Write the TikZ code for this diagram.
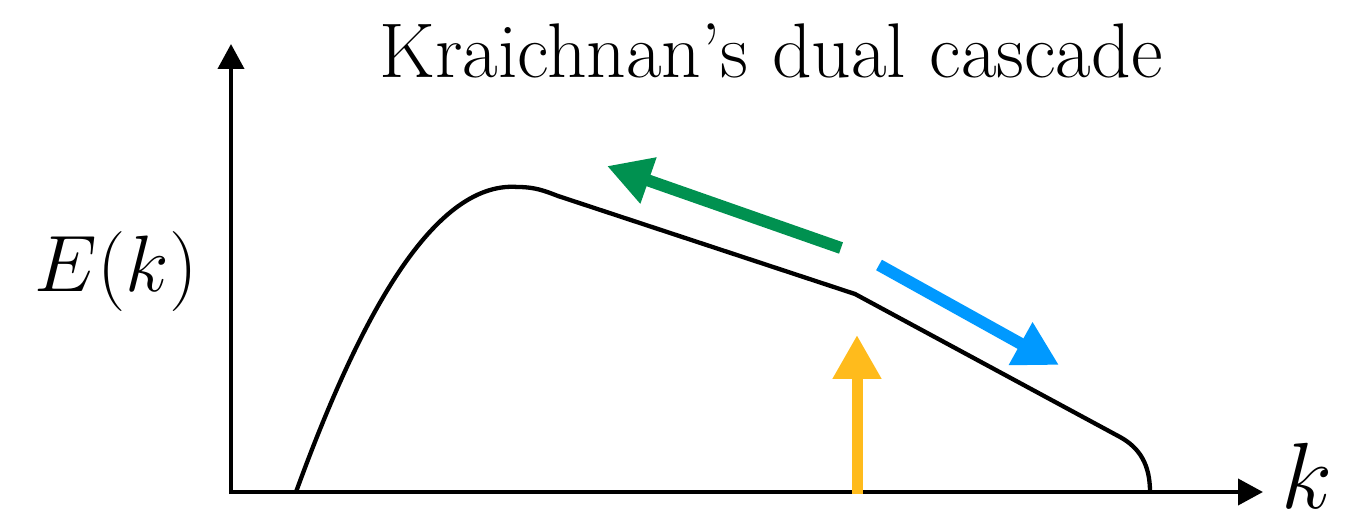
\RequirePackage{fix-cm}
\documentclass[tikz,border=0pt]{standalone}
\usetikzlibrary{arrows.meta}
\definecolor{cgreen}{RGB}{0,145,80}
\definecolor{cblue}{RGB}{0,153,255}
\definecolor{cyellow}{RGB}{255,187,28}
\begin{document}
\begin{tikzpicture}[x=1pt,y=-1pt,
  axis/.style={line width=4pt,-{Triangle[length=25pt,width=26pt]}},
  flux/.style={line width=12pt,-{Triangle[length=44pt,width=46pt]}},
  spectrum/.style={line width=4.3pt,line join=round}]
\useasboundingbox (0,0) rectangle (1347,518);
\coordinate (O) at (231,492);
\coordinate (ytop) at (231,44);
\coordinate (xend) at (1263,492);
\draw[axis] (231,494) -- (ytop);
\draw[axis] (229,492) -- (xend);
\node[anchor=base,inner sep=0pt,font=\fontsize{77.5}{85}\selectfont] (title) at (771,78) {Kraichnan's dual cascade};
\node[anchor=base,inner sep=0pt,font=\fontsize{80}{90}\selectfont] (Ek) at (116,292) {$E(k)$};
\node[anchor=base,inner sep=0pt,font=\fontsize{94}{100}\selectfont] (klab) at (1307,508) {$k$};
\coordinate (s0) at (296,492);
\coordinate (peak) at (518,187);
\coordinate (knee) at (855,294);
\coordinate (s3) at (1120,437);
\coordinate (s4) at (1150,492);
\draw[spectrum] (s0) .. controls (355,330) and (430,180) .. (peak)
  .. controls (535,187) and (545,191) .. (558,196) -- (knee) -- (s3)
  .. controls (1140,448) and (1150,465) .. (s4);
\coordinate (gt) at (841,248);
\coordinate (gh) at (607,166);
\draw[flux,cgreen] (gt) -- (gh);
\coordinate (bt) at (879,265);
\coordinate (bh) at (1059,365);
\draw[flux,cblue] (bt) -- (bh);
\coordinate (yt) at (857,494);
\coordinate (yh) at (857,335);
\draw[flux,cyellow,line width=11pt] (yt) -- (yh);
\end{tikzpicture}
\end{document}
